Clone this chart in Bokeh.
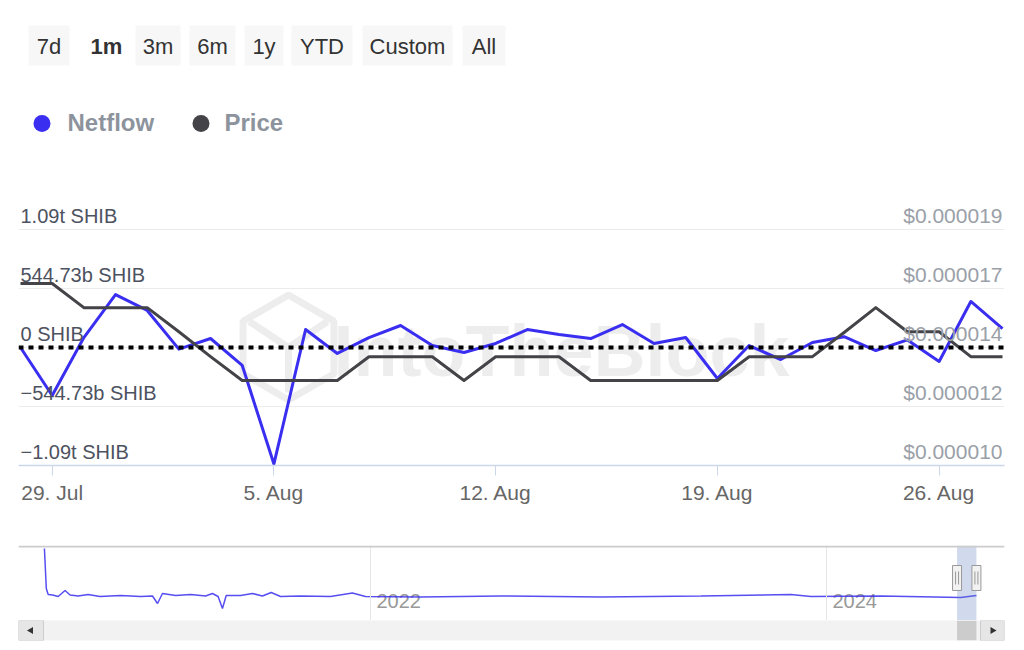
import datetime as dt
import math
from bokeh.plotting import figure
from bokeh.models import Range1d, FixedTicker, Span, ColumnDataSource
from bokeh.layouts import column
from bokeh.embed import file_html
from bokeh.resources import INLINE
from bokeh.core.properties import value

# ---------------- data ----------------
dates = ["2024-07-28", "2024-07-29", "2024-07-30", "2024-07-31", "2024-08-01", "2024-08-02",
         "2024-08-03", "2024-08-04", "2024-08-05", "2024-08-06", "2024-08-07", "2024-08-08",
         "2024-08-09", "2024-08-10", "2024-08-11", "2024-08-12", "2024-08-13", "2024-08-14",
         "2024-08-15", "2024-08-16", "2024-08-17", "2024-08-18", "2024-08-19", "2024-08-20",
         "2024-08-21", "2024-08-22", "2024-08-23", "2024-08-24", "2024-08-25", "2024-08-26",
         "2024-08-27", "2024-08-28"]
# netflow in billions of SHIB
netflow_b = [0, -443, 92, 489, 342, -15, 83, -166, -1075, 166, -55, 92,
             203, 18, -46, 37, 166, 120, 83, 212, 37, 92, -286, 18,
             -111, 46, 100, -28, 70, -129, 425, 175]
# price in USD
price_usd = [16.94e-6, 16.94e-6, 16.02e-6, 16.02e-6, 16.02e-6, 15.10e-6,
             14.15e-6, 13.24e-6, 13.24e-6, 13.24e-6, 13.24e-6, 14.15e-6,
             14.15e-6, 14.15e-6, 13.24e-6, 14.15e-6, 14.15e-6, 14.15e-6,
             13.24e-6, 13.24e-6, 13.24e-6, 13.24e-6, 13.24e-6, 14.15e-6,
             14.15e-6, 14.15e-6, 15.07e-6, 16.02e-6, 15.10e-6, 15.10e-6,
             14.15e-6, 14.15e-6]

nf_ticks = [-1089.46, -544.73, 0, 544.73, 1089.46]
nf_tick_labels = ["\u22121.09t SHIB", "\u2212544.73b SHIB", "0 SHIB", "544.73b SHIB", "1.09t SHIB"]
price_ticks = [10.0e-6, 12.25e-6, 14.5e-6, 16.75e-6, 19.0e-6]
price_tick_labels = ["$0.000010", "$0.000012", "$0.000014", "$0.000017", "$0.000019"]
x_ticks = ["2024-07-29", "2024-08-05", "2024-08-12", "2024-08-19", "2024-08-26"]
x_tick_labels = ["29. Jul", "5. Aug", "12. Aug", "19. Aug", "26. Aug"]

# navigator (full history netflow, trillions of SHIB)
nav_dates = ["2020-07-28", "2020-07-31", "2020-08-03", "2020-08-10", "2020-08-19", "2020-08-30",
             "2020-09-07", "2020-09-20", "2020-10-06", "2020-10-25", "2020-11-27", "2020-12-29",
             "2021-01-17", "2021-01-25", "2021-02-02", "2021-02-23", "2021-03-19", "2021-04-12",
             "2021-04-23", "2021-05-02", "2021-05-09", "2021-05-15", "2021-06-07", "2021-06-26",
             "2021-07-12", "2021-07-26", "2021-08-10", "2021-09-11", "2021-10-29", "2021-12-03",
             "2021-12-24", "2022-03-22", "2022-07-28", "2023-01-04", "2023-06-14", "2023-11-05",
             "2023-12-07", "2024-03-28", "2024-08-03", "2024-08-28"]
nav_netflow_t = [4.8, 0.8, 0.2, 0.15, 0.0, 0.6,
                 0.15, 0.05, 0.2, 0.0, 0.1, 0.0,
                 0.05, -0.7, 0.3, 0.1, 0.2, 0.05,
                 0.3, 0.0, -1.2, 0.1, 0.1, 0.3,
                 0.05, 0.4, 0.0, 0.05, 0.0, 0.35,
                 0.0, -0.05, 0.05, -0.05, 0.05, 0.2,
                 0.0, 0.05, -0.1, 0.1]
nav_ticks = ["2022-01-01", "2024-01-01"]
nav_tick_labels = ["2022", "2024"]

buttons = ["7d", "1m", "3m", "6m", "1y", "YTD", "Custom", "All"]
selected_button = "1m"
legend_items = ["Netflow", "Price"]

# ---------------- style / layout ----------------
BLUE = "#3a2ff0"
GRAY = "#434348"
FONT = "Liberation Sans"
DAY = 86400000.0
W = 1016
BL, BR = 18, 12
FRAME_W = W - BL - BR  # 986


def to_ms(s):
    return int(dt.datetime.strptime(s, "%Y-%m-%d").replace(tzinfo=dt.timezone.utc).timestamp() * 1000)


x_ms = [to_ms(d) for d in dates]

# ---------------- header (range selector + legend), page-pixel coordinates ----------------
hdr = figure(width=W, height=192, x_range=Range1d(BL, W - BR), y_range=Range1d(192, 0),
             x_axis_location=None, y_axis_location=None, toolbar_location=None,
             output_backend="svg", min_border_left=BL, min_border_right=BR,
             min_border_top=0, min_border_bottom=0, outline_line_color=None)
hdr.grid.visible = False
btn_centers = [48.5, 106, 157.5, 212, 263.5, 321.5, 407, 483.5]
btn_widths = [41, 40, 45, 46, 39, 61, 90, 43]
btn_src = ColumnDataSource(dict(
    x=btn_centers, w=btn_widths, text=buttons,
    fill=["#ffffff" if b == selected_button else "#f7f7f7" for b in buttons],
    style=["bold" if b == selected_button else "normal" for b in buttons]))
hdr.rect(x="x", y=45, width="w", height=40, fill_color="fill", line_color=None, source=btn_src)
hdr.text(x="x", y=46, text="text", text_font_style="style", source=btn_src,
         text_align="center", text_baseline="middle", text_font=value(FONT),
         text_font_size="22px", text_color="#333333")
hdr.scatter(x=[41.5, 200.5], y=[123, 123], size=17, color=[BLUE, GRAY], line_color=None)
hdr.text(x=[67, 224], y=[122, 122], text=legend_items, text_baseline="middle",
         text_font=value(FONT), text_font_size="24px", text_font_style="bold",
         text_color="#8c939d")

# ---------------- main chart ----------------
pad = 2 * 31 / (FRAME_W - 4)
xs = x_ms[0] - pad * DAY
xe = x_ms[-1] + pad * DAY
ms_px = (xe - xs) / FRAME_W
nf_top = nf_ticks[0] + 260 / 59 * (nf_ticks[1] - nf_ticks[0])
pr_top = price_ticks[0] + 260 / 59 * (price_ticks[1] - price_ticks[0])

p = figure(width=W, height=320, x_axis_type="datetime", y_axis_location=None,
           toolbar_location=None, output_backend="svg",
           x_range=Range1d(xs, xe), y_range=Range1d(nf_ticks[0], nf_top),
           min_border_left=BL, min_border_right=BR, min_border_top=13, min_border_bottom=47,
           outline_line_color=None)
p.extra_y_ranges = {"price": Range1d(price_ticks[0], pr_top)}
p.xgrid.visible = False
p.ygrid.ticker = FixedTicker(ticks=nf_ticks)
p.ygrid.grid_line_color = "#ececec"
p.ygrid.grid_line_width = 1

ax = p.xaxis[0]
xt_ms = [to_ms(t) for t in x_ticks]
ax.ticker = FixedTicker(ticks=xt_ms)
ax.major_label_overrides = {int(t): lab for t, lab in zip(xt_ms, x_tick_labels)}
ax.axis_line_color = "#ccd6eb"
ax.axis_line_width = 1.5
ax.major_tick_line_color = "#ccd6eb"
ax.major_tick_out = 10
ax.major_tick_in = 0
ax.minor_tick_line_color = None
ax.major_label_text_font = FONT
ax.major_label_text_font_size = "21px"
ax.major_label_text_color = "#666666"
ax.major_label_standoff = 5

# watermark
mid = (xs + xe) / 2
p.scatter(x=[mid - 223 * ms_px], y=[0], marker="hex", size=105, angle=math.pi / 6,
          fill_color=None, line_color="#ededed", line_width=7)
p.scatter(x=[mid - 223 * ms_px], y=[0], marker="y", size=90,
          fill_color=None, line_color="#ededed", line_width=7)
p.text(x=[mid], y=[0], text=["IntoTheBlock"], x_offset=50, y_offset=3, text_align="center",
       text_baseline="middle", text_font=value(FONT), text_font_size="72px",
       text_font_style="bold", text_color="#ededed")

p.line(x=x_ms, y=netflow_b, line_color=BLUE, line_width=3, line_join="round")
p.line(x=x_ms, y=price_usd, y_range_name="price", line_color=GRAY, line_width=3,
       line_join="round")
p.add_layout(Span(location=0, dimension="width", line_color="black", line_width=4,
                  line_dash="5 5"))

p.text(x=[xs] * len(nf_ticks), y=nf_ticks, text=nf_tick_labels, x_offset=2, y_offset=-3,
       text_align="left", text_baseline="bottom", text_font=value(FONT),
       text_font_size="20px", text_color="#4d5260")
p.text(x=[xe] * len(price_ticks), y=price_ticks, text=price_tick_labels, x_offset=-2,
       y_offset=-3, y_range_name="price", text_align="right", text_baseline="bottom",
       text_font=value(FONT), text_font_size="21px", text_color="#9aa0a8")

# ---------------- navigator ----------------
n22 = to_ms(nav_ticks[0])
n24 = to_ms(nav_ticks[1])
nav_ms_px = (n24 - n22) / 456.0
nav_start = n22 - (370 - BL) * nav_ms_px
nav_end = nav_start + FRAME_W * nav_ms_px
nav_range = Range1d(nav_start, nav_end)

nv = figure(width=W, height=108, x_axis_type="datetime", x_axis_location=None,
            y_axis_location=None, toolbar_location=None, output_backend="svg",
            x_range=nav_range, y_range=Range1d(-2.4, 5.1),
            min_border_left=BL, min_border_right=BR, min_border_top=33, min_border_bottom=0,
            outline_line_color=None)
nv.grid.visible = False
for t in nav_ticks:
    nv.add_layout(Span(location=to_ms(t), dimension="height", line_color="#e6e6e6",
                       line_width=1))
nv.add_layout(Span(location=5.0, dimension="width", line_color="#cccccc", line_width=2))
nv.text(x=[to_ms(t) for t in nav_ticks], y=[-1.1, -1.1], text=nav_tick_labels, x_offset=6,
        text_baseline="bottom", text_font=value(FONT), text_font_size="20px",
        text_color="#999999")
nv.line(x=[to_ms(d) for d in nav_dates], y=nav_netflow_t, line_color=BLUE, line_width=1.5,
        line_alpha=0.85)
nv.quad(left=[x_ms[0]], right=[x_ms[-1]], bottom=[-2.4], top=[5.1],
        fill_color="#6685c2", fill_alpha=0.3, line_color=None)
edges = [x_ms[0], x_ms[-1]]
nv.rect(x=edges, y=[1.85, 1.85], width=9, height=25, width_units="screen",
        height_units="screen", fill_color="#f2f2f2", line_color="#999999", line_width=1)
inner_x = [e + o * nav_ms_px for e in edges for o in (-1.5, 1.5)]
nv.segment(x0=inner_x, y0=[1.2] * 4, x1=inner_x, y1=[2.5] * 4, line_color="#999999",
           line_width=1)

# ---------------- scrollbar ----------------
sc = figure(width=W, height=22, x_axis_type="datetime", x_axis_location=None,
            y_axis_location=None, toolbar_location=None, output_backend="svg",
            x_range=nav_range, y_range=Range1d(0, 20),
            min_border_left=BL, min_border_right=BR, min_border_top=0, min_border_bottom=2,
            outline_line_color=None, background_fill_color="#f2f2f2")
sc.grid.visible = False
sc.quad(left=[x_ms[0]], right=[x_ms[-1]], bottom=[0], top=[20], fill_color="#cccccc",
        line_color=None)
sc.quad(left=[nav_start, nav_end - 24 * nav_ms_px], right=[nav_start + 25 * nav_ms_px, nav_end],
        bottom=[0, 0], top=[20, 20], fill_color="#e6e6e6", line_color="#cccccc", line_width=1)
sc.scatter(x=[nav_start + 12.5 * nav_ms_px, nav_end - 12 * nav_ms_px], y=[10, 10],
           marker="triangle", size=7, angle=[math.pi / 2, -math.pi / 2],
           fill_color="#333333", line_color=None)

layout = column(hdr, p, nv, sc, spacing=0)
open("out.html", "w").write(file_html(layout, INLINE))
